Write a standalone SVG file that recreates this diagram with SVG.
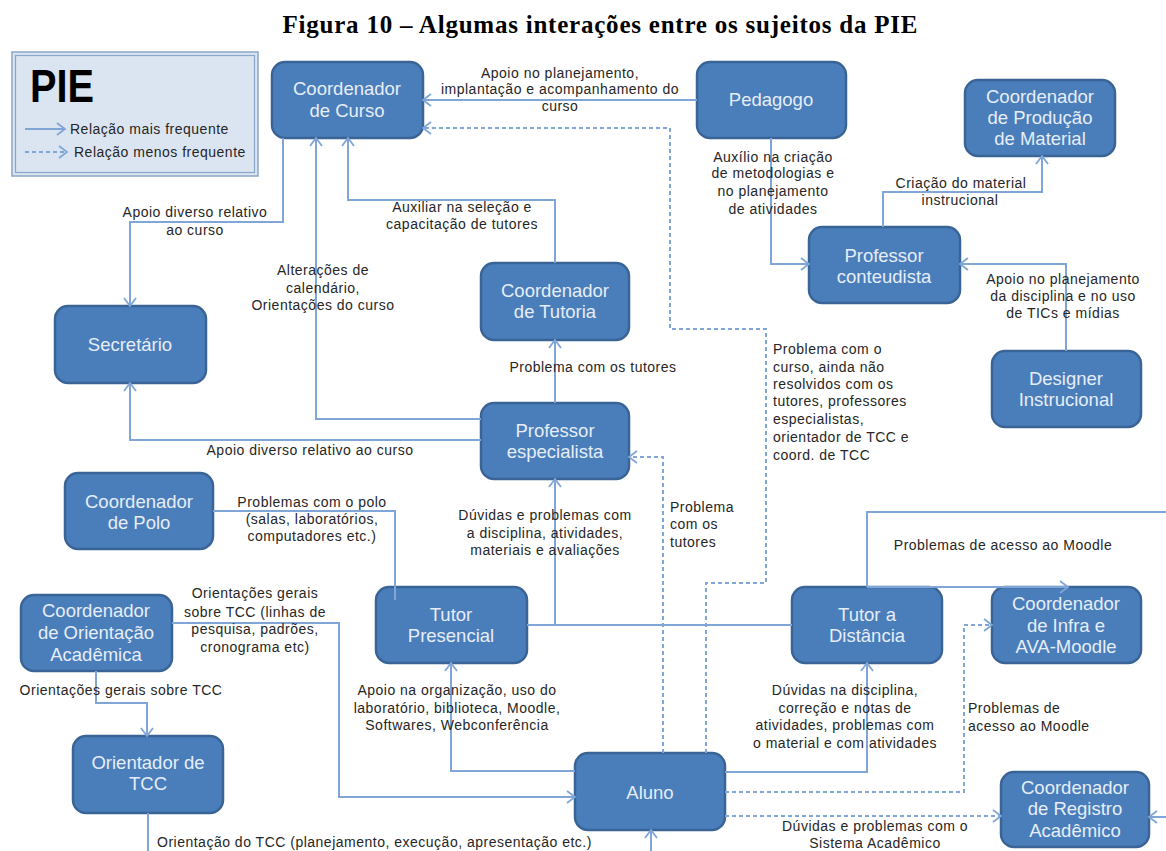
<svg xmlns="http://www.w3.org/2000/svg" width="1166" height="851" viewBox="0 0 1166 851">
<defs>
<marker id="ah" viewBox="-10 -7 12 14" markerWidth="12" markerHeight="14" refX="0" refY="0" orient="auto" markerUnits="userSpaceOnUse">
<path d="M-8,-6 L0,0 L-8,6" fill="none" stroke="#7fa6d6" stroke-width="1.8" stroke-dasharray="none"/>
</marker>
<style>
.node rect{fill:#4a7ebb;stroke:#3a6496;stroke-width:2.5}
.node text{font-family:"Liberation Sans",Arial,sans-serif;font-size:18.5px;fill:#e6edf7;text-anchor:middle}
.c{fill:none;stroke:#7fa6d6;stroke-width:2}
.d{fill:none;stroke:#7fa6d6;stroke-width:2;stroke-dasharray:4 3}
.a{marker-end:url(#ah)}
.lb{font-family:"Liberation Sans",Arial,sans-serif;font-size:14px;fill:#262626;letter-spacing:0.5px}
.m{text-anchor:middle}
</style>
</defs>
<rect width="1166" height="851" fill="#ffffff"/>
<text x="600" y="33" font-family="'Liberation Serif','Times New Roman',serif" font-weight="bold" font-size="25" text-anchor="middle" textLength="635" lengthAdjust="spacing">Figura 10 – Algumas interações entre os sujeitos da PIE</text>

<g id="legend">
<rect x="12" y="52" width="246" height="124" fill="#dbe5f1" stroke="#8aa6c8" stroke-width="1.5"/>
<rect x="15.5" y="55.5" width="239" height="117" fill="none" stroke="#8aa6c8" stroke-width="1.2"/>
<text x="30" y="102" font-family="'Liberation Sans',Arial,sans-serif" font-weight="bold" font-size="46" fill="#000" textLength="64" lengthAdjust="spacingAndGlyphs">PIE</text>
<path class="c a" d="M25,129 H65"/>
<text class="lb" x="70" y="134">Relação mais frequente</text>
<path class="d a" d="M25,152 H67"/>
<text class="lb" x="74" y="157">Relação menos frequente</text>
</g>

<g id="n-coord-curso" class="node"><rect x="272" y="62" width="151" height="76" rx="13"/><text x="347" y="95">Coordenador</text><text x="347" y="117">de Curso</text></g>
<g id="n-pedagogo" class="node"><rect x="697" y="62" width="149" height="76" rx="13"/><text x="771" y="106">Pedagogo</text></g>
<g id="n-coord-producao" class="node"><rect x="965" y="80" width="150" height="76" rx="13"/><text x="1040" y="103">Coordenador</text><text x="1040" y="124">de Produção</text><text x="1040" y="145">de Material</text></g>
<g id="n-prof-conteudista" class="node"><rect x="809" y="227" width="151" height="76" rx="13"/><text x="884" y="262">Professor</text><text x="884" y="283">conteudista</text></g>
<g id="n-designer" class="node"><rect x="992" y="351" width="149" height="76" rx="13"/><text x="1066" y="385">Designer</text><text x="1066" y="406">Instrucional</text></g>
<g id="n-secretario" class="node"><rect x="55" y="306" width="151" height="77" rx="13"/><text x="130" y="351">Secretário</text></g>
<g id="n-coord-tutoria" class="node"><rect x="481" y="263" width="148" height="77" rx="13"/><text x="555" y="297">Coordenador</text><text x="555" y="318">de Tutoria</text></g>
<g id="n-prof-especialista" class="node"><rect x="481" y="403" width="148" height="76" rx="13"/><text x="555" y="437">Professor</text><text x="555" y="458">especialista</text></g>
<g id="n-coord-polo" class="node"><rect x="65" y="473" width="148" height="76" rx="13"/><text x="139" y="508">Coordenador</text><text x="139" y="529">de Polo</text></g>
<g id="n-coord-orientacao" class="node"><rect x="21" y="595" width="151" height="76" rx="13"/><text x="96" y="617">Coordenador</text><text x="96" y="639">de Orientação</text><text x="96" y="661">Acadêmica</text></g>
<g id="n-tutor-presencial" class="node"><rect x="376" y="587" width="151" height="76" rx="13"/><text x="451" y="621">Tutor</text><text x="451" y="642">Presencial</text></g>
<g id="n-tutor-distancia" class="node"><rect x="792" y="587" width="150" height="76" rx="13"/><text x="867" y="621">Tutor a</text><text x="867" y="642">Distância</text></g>
<g id="n-coord-infra" class="node"><rect x="992" y="587" width="149" height="76" rx="13"/><text x="1066" y="610">Coordenador</text><text x="1066" y="632">de Infra e</text><text x="1066" y="653">AVA-Moodle</text></g>
<g id="n-orientador-tcc" class="node"><rect x="73" y="736" width="150" height="77" rx="13"/><text x="148" y="769">Orientador de</text><text x="148" y="790">TCC</text></g>
<g id="n-aluno" class="node"><rect x="575" y="753" width="150" height="77" rx="13"/><text x="650" y="799">Aluno</text></g>
<g id="n-coord-registro" class="node"><rect x="1001" y="772" width="148" height="75" rx="13"/><text x="1075" y="794">Coordenador</text><text x="1075" y="815">de Registro</text><text x="1075" y="837">Acadêmico</text></g>

<g id="connectors">
<path class="c a" d="M697,100 H423"/>
<path class="d a" d="M706,753 V583 H766 V329 H670 V128 H423"/>
<path class="d a" d="M663,753 V457 H629"/>
<path class="c a" d="M555,263 V200 H348 V138"/>
<path class="c a" d="M283,138 V222 H130 V306"/>
<path class="c a" d="M481,419 H316 V138"/>
<path class="c a" d="M481,440 H130 V383"/>
<path class="c a" d="M555,403 V340"/>
<path class="c" d="M527,625 H792"/>
<path class="c a" d="M555,625 V479"/>
<path class="c" d="M213,511 H395 V600"/>
<path class="c a" d="M172,623 H339 V797 H575"/>
<path class="c a" d="M96,671 V703 H147 V736"/>
<path class="c" d="M148,813 V851"/>
<path class="c a" d="M651,851 V830"/>
<path class="c a" d="M575,771 H451 V663"/>
<path class="c a" d="M725,772 H867 V663"/>
<path class="d a" d="M725,792 H964 V625 H992"/>
<path class="d a" d="M725,816 H1001"/>
<path class="c a" d="M1166,817 H1149"/>
<path class="c" d="M867,587 V512 H1166"/>
<path class="c a" d="M867,587 H1068"/>
<path class="c a" d="M771,138 V264 H809"/>
<path class="c a" d="M883,227 V192 H1042 V156"/>
<path class="c a" d="M1066,351 V264 H960"/>
</g>

<g id="labels">
<text class="lb m" x="560" y="78">Apoio no planejamento,</text>
<text class="lb m" x="560" y="94">implantação e acompanhamento do</text>
<text class="lb m" x="560" y="111">curso</text>
<text class="lb m" x="773" y="162">Auxílio na criação</text>
<text class="lb m" x="773" y="178">de metodologias e</text>
<text class="lb m" x="773" y="196">no planejamento</text>
<text class="lb m" x="773" y="214">de atividades</text>
<text class="lb m" x="961" y="188">Criação do material</text>
<text class="lb m" x="960" y="205">instrucional</text>
<text class="lb m" x="1063" y="284">Apoio no planejamento</text>
<text class="lb m" x="1063" y="301">da disciplina e no uso</text>
<text class="lb m" x="1063" y="318">de TICs  e  mídias</text>
<text class="lb m" x="195" y="217">Apoio diverso relativo</text>
<text class="lb m" x="195" y="235">ao curso</text>
<text class="lb m" x="462" y="212">Auxiliar na seleção e</text>
<text class="lb m" x="462" y="229">capacitação de tutores</text>
<text class="lb m" x="323" y="275">Alterações de</text>
<text class="lb m" x="323" y="293">calendário,</text>
<text class="lb m" x="323" y="310">Orientações do curso</text>
<text class="lb m" x="593" y="372">Problema com os tutores</text>
<text class="lb" x="773" y="354">Problema com o</text>
<text class="lb" x="773" y="372">curso, ainda não</text>
<text class="lb" x="773" y="389">resolvidos com os</text>
<text class="lb" x="773" y="406">tutores, professores</text>
<text class="lb" x="773" y="424">especialistas,</text>
<text class="lb" x="773" y="442">orientador de TCC  e</text>
<text class="lb" x="773" y="460">coord. de TCC</text>
<text class="lb m" x="310" y="455">Apoio diverso relativo ao curso</text>
<text class="lb m" x="312" y="507">Problemas com o polo</text>
<text class="lb m" x="312" y="524">(salas, laboratórios,</text>
<text class="lb m" x="312" y="541">computadores etc.)</text>
<text class="lb m" x="545" y="520">Dúvidas e problemas com</text>
<text class="lb m" x="545" y="538">a disciplina, atividades,</text>
<text class="lb m" x="545" y="555">materiais e avaliações</text>
<text class="lb" x="670" y="512">Problema</text>
<text class="lb" x="670" y="529">com os</text>
<text class="lb" x="670" y="547">tutores</text>
<text class="lb m" x="1003" y="550">Problemas de acesso ao Moodle</text>
<text class="lb m" x="255" y="598">Orientações gerais</text>
<text class="lb m" x="255" y="617">sobre TCC (linhas de</text>
<text class="lb m" x="255" y="634">pesquisa, padrões,</text>
<text class="lb m" x="255" y="652">cronograma etc)</text>
<text class="lb m" x="121" y="695">Orientações gerais sobre TCC</text>
<text class="lb m" x="457" y="695">Apoio na organização, uso do</text>
<text class="lb m" x="457" y="713">laboratório, biblioteca, Moodle,</text>
<text class="lb m" x="457" y="730">Softwares, Webconferência</text>
<text class="lb m" x="845" y="695">Dúvidas na disciplina,</text>
<text class="lb m" x="845" y="713">correção e notas de</text>
<text class="lb m" x="845" y="730">atividades, problemas com</text>
<text class="lb m" x="845" y="748">o material e com atividades</text>
<text class="lb" x="968" y="713">Problemas de</text>
<text class="lb" x="968" y="731">acesso ao Moodle</text>
<text class="lb m" x="875" y="831">Dúvidas e problemas com o</text>
<text class="lb m" x="875" y="848">Sistema Acadêmico</text>
<text class="lb" x="157" y="847">Orientação do TCC  (planejamento, execução, apresentação etc.)</text>
</g>
</svg>
